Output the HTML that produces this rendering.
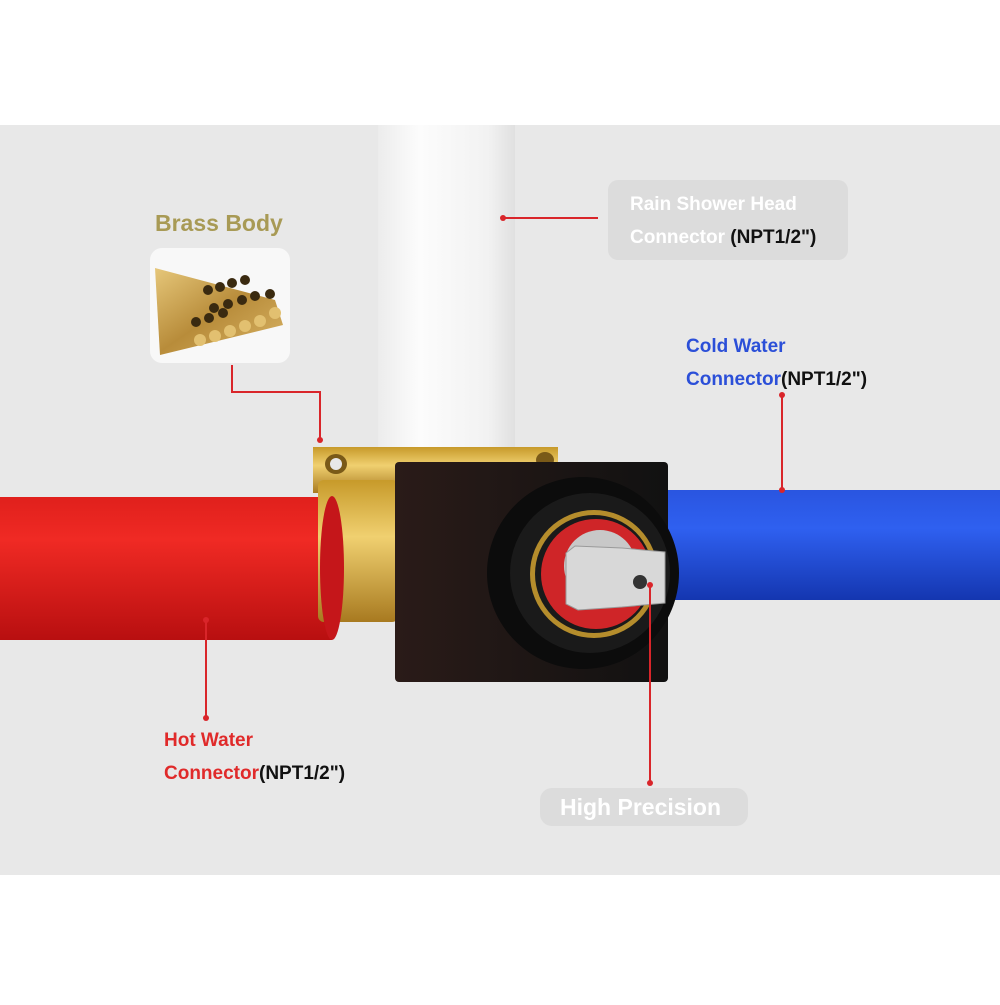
<!DOCTYPE html>
<html><head><style>
body{margin:0;width:1000px;height:1000px;background:#fff;overflow:hidden;font-family:"Liberation Sans",sans-serif}
</style></head><body>
<svg width="1000" height="1000" viewBox="0 0 1000 1000" xmlns="http://www.w3.org/2000/svg">
<defs>
<linearGradient id="wp" x1="0" x2="1"><stop offset="0" stop-color="#ececec"/><stop offset=".3" stop-color="#fcfcfc"/><stop offset=".8" stop-color="#f2f2f2"/><stop offset="1" stop-color="#e0e0e0"/></linearGradient>
<linearGradient id="rp" x1="0" y1="0" x2="0" y2="1"><stop offset="0" stop-color="#e0201c"/><stop offset=".3" stop-color="#f02a24"/><stop offset="1" stop-color="#b80f10"/></linearGradient>
<linearGradient id="bp" x1="0" y1="0" x2="0" y2="1"><stop offset="0" stop-color="#2a55e0"/><stop offset=".35" stop-color="#2f60f0"/><stop offset="1" stop-color="#1436b0"/></linearGradient>
<linearGradient id="br" x1="0" y1="0" x2="0" y2="1"><stop offset="0" stop-color="#c79a2a"/><stop offset=".4" stop-color="#f0d070"/><stop offset="1" stop-color="#a87a20"/></linearGradient>
<linearGradient id="bk" x1="0" x2="1"><stop offset="0" stop-color="#2a1b18"/><stop offset="1" stop-color="#111"/></linearGradient>
<linearGradient id="rods" x1="0" y1="0" x2="1" y2="1"><stop offset="0" stop-color="#e6c77a"/><stop offset=".5" stop-color="#b88c3a"/><stop offset="1" stop-color="#d9b466"/></linearGradient>
</defs>
<rect x="0" y="125" width="1000" height="750" fill="#e8e8e8"/>
<rect x="378" y="125" width="137" height="330" fill="url(#wp)"/>
<rect x="0" y="497" width="332" height="143" fill="url(#rp)"/>
<rect x="660" y="490" width="340" height="110" fill="url(#bp)"/>
<rect x="313" y="447" width="245" height="46" fill="url(#br)"/>
<rect x="318" y="480" width="80" height="142" rx="6" fill="url(#br)"/>
<ellipse cx="336" cy="464" rx="11" ry="10" fill="#7a5a18"/><ellipse cx="336" cy="464" rx="6" ry="6" fill="#e8e8e8"/>
<ellipse cx="545" cy="460" rx="9" ry="8" fill="#7a5a18"/>
<ellipse cx="332" cy="568" rx="12" ry="72" fill="#c5161a"/>
<rect x="395" y="462" width="273" height="220" rx="4" fill="url(#bk)"/>
<circle cx="583" cy="573" r="96" fill="#0c0c0c"/>
<circle cx="590" cy="573" r="80" fill="#1a1a1a"/>
<circle cx="594" cy="574" r="64" fill="#b58d2c"/>
<circle cx="594" cy="574" r="59" fill="#1a1a1a"/>
<circle cx="596" cy="574" r="55" fill="#cf2528"/>
<circle cx="600" cy="566" r="36" fill="#c8c8c8"/>
<path d="M566 553 L575 546 L622 548 L665 552 L665 603 L622 607 L578 610 L566 604 Z" fill="#d8d8d8" stroke="#9a9a9a"/>
<circle cx="640" cy="582" r="7" fill="#333"/>
<rect x="150" y="248" width="140" height="115" rx="12" fill="#f8f8f8"/>
<g fill="url(#rods)"><path d="M155 268 L275 300 L283 325 L160 355 Z"/></g>
<g fill="#3a2a10">
<circle cx="245" cy="280" r="5"/><circle cx="232" cy="283" r="5"/><circle cx="220" cy="287" r="5"/><circle cx="208" cy="290" r="5"/>
<circle cx="255" cy="296" r="5"/><circle cx="242" cy="300" r="5"/><circle cx="228" cy="304" r="5"/><circle cx="214" cy="308" r="5"/><circle cx="270" cy="294" r="5"/>
<circle cx="196" cy="322" r="5"/><circle cx="209" cy="318" r="5"/><circle cx="223" cy="313" r="5"/>
</g>
<g fill="#e2c070"><circle cx="200" cy="340" r="6"/><circle cx="215" cy="336" r="6"/><circle cx="230" cy="331" r="6"/><circle cx="245" cy="326" r="6"/><circle cx="260" cy="321" r="6"/><circle cx="275" cy="313" r="6"/></g>
<text x="155" y="231" font-size="23" font-weight="bold" fill="#a89a55">Brass Body</text>
<g stroke="#d9252a" stroke-width="2" fill="none">
<polyline points="232,365 232,392 320,392 320,440"/>
<line x1="503" y1="218" x2="598" y2="218"/>
<line x1="782" y1="395" x2="782" y2="490"/>
<line x1="206" y1="620" x2="206" y2="718"/>
<line x1="650" y1="585" x2="650" y2="783"/>
</g>
<g fill="#d9252a"><circle cx="320" cy="440" r="3"/><circle cx="503" cy="218" r="3"/><circle cx="782" cy="395" r="3"/><circle cx="782" cy="490" r="3"/><circle cx="206" cy="620" r="3"/><circle cx="206" cy="718" r="3"/><circle cx="650" cy="585" r="3"/><circle cx="650" cy="783" r="3"/></g>
<rect x="608" y="180" width="240" height="80" rx="10" fill="#dcdcdc"/>
<text x="630" y="210" font-size="19" font-weight="bold" fill="#fff">Rain Shower Head</text>
<text x="630" y="243" font-size="19" font-weight="bold" fill="#fff">Connector <tspan fill="#111">(NPT1/2")</tspan></text>
<text x="686" y="352" font-size="19" font-weight="bold" fill="#2b4fd8">Cold Water</text>
<text x="686" y="385" font-size="19" font-weight="bold" fill="#2b4fd8">Connector<tspan fill="#111">(NPT1/2")</tspan></text>
<text x="164" y="746" font-size="19" font-weight="bold" fill="#e02a2a">Hot Water</text>
<text x="164" y="779" font-size="19" font-weight="bold" fill="#e02a2a">Connector<tspan fill="#111">(NPT1/2")</tspan></text>
<rect x="540" y="788" width="208" height="38" rx="12" fill="#dcdcdc"/>
<text x="560" y="815" font-size="23" font-weight="bold" fill="#fff">High Precision</text>
</svg>
</body></html>
